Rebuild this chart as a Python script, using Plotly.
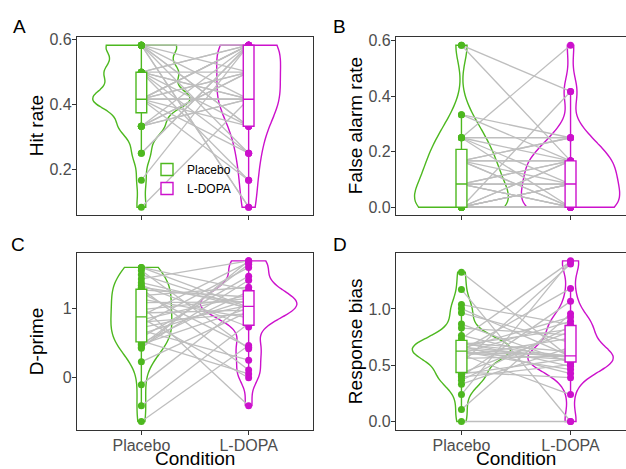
import numpy as np
import plotly.graph_objects as go

# ---------------- data (one value per participant, paired by position) ----------------
conditions = ["Placebo", "L-DOPA"]
panel_letters = ["A", "B", "C", "D"]
y_titles = ["Hit rate", "False alarm rate", "D-prime", "Response bias"]
x_title = "Condition"

hit_placebo = [0.5833, 0.5833, 0.5833, 0.5833, 0.5833, 0.5833, 0.5833,
               0.5, 0.5, 0.5, 0.5, 0.5, 0.5, 0.5, 0.5,
               0.4167, 0.4167, 0.4167, 0.4167, 0.4167, 0.4167, 0.5833, 0.4167, 0.4167, 0.4167, 0.4167, 0.4167,
               0.3333, 0.3333, 0.3333, 0.3333, 0.3333,
               0.25, 0.25, 0.1667, 0.0833]
hit_ldopa = [0.5833, 0.4167, 0.3333, 0.25, 0.0833, 0.5, 0.3333,
             0.5833, 0.4167, 0.3333, 0.25, 0.1667, 0.5, 0.5833, 0.4167,
             0.4167, 0.4167, 0.5833, 0.5, 0.25, 0.1667, 0.0833, 0.5833, 0.3333, 0.4167, 0.5, 0.5833,
             0.5833, 0.4167, 0.5, 0.4167, 0.5,
             0.5833, 0.5833, 0.5833, 0.4167]

fa_placebo = [0.5833, 0.5833, 0.3333, 0.3333,
              0.25, 0.25, 0.25, 0.25, 0.25,
              0.1667, 0.1667, 0.1667, 0.1667, 0.1667, 0.1667, 0.1667,
              0.0833, 0.0833, 0.0833, 0.0833, 0.0833, 0.0833, 0.0833, 0.0833,
              0.0, 0.0, 0.0, 0.0, 0.0, 0.0, 0.0, 0.0, 0.0, 0.0, 0.0, 0.0]
fa_ldopa = [0.4167, 0.1667, 0.25, 0.1667,
            0.5833, 0.25, 0.1667, 0.0833, 0.0,
            0.1667, 0.0833, 0.0, 0.25, 0.1667, 0.0, 0.25,
            0.1667, 0.0833, 0.0, 0.1667, 0.0833, 0.0, 0.0833, 0.0,
            0.4167, 0.1667, 0.0833, 0.0, 0.1667, 0.0833, 0.0, 0.0, 0.0833, 0.0, 0.0, 0.0833]

dprime_placebo = [-0.627, -0.40, -0.098, 0.229, 0.425, 0.44, 0.463, 0.48, 0.50, 0.53, 0.58, 0.63,
                  0.68, 0.72, 0.76, 0.80, 0.83, 0.86, 0.89, 0.93, 0.98, 1.03, 1.08, 1.13,
                  1.18, 1.22, 1.263, 1.28, 1.30, 1.33, 1.365, 1.42, 1.48, 1.54, 1.585, 1.585]
dprime_ldopa = [0.463, 0.78, 1.10, 0.95, 1.679, 1.40, 1.63, 1.00, 1.24, 0.056, 1.459, 1.12,
                0.252, 1.04, 1.585, 0.92, 1.19, 0.0, 1.66, 0.97, 1.14, -0.40, 1.09, 0.86,
                1.30, 0.44, 1.16, 0.112, 1.07, 0.729, 1.005, 1.679, 0.99, 0.416, 1.26, 1.01]

bias_placebo = [0.0, 0.106, 0.239, 0.331, 0.366, 0.394, 0.40, 0.42, 0.43, 0.44, 0.52, 0.56,
                0.58, 0.595, 0.605, 0.61, 0.615, 0.62, 0.63, 0.64, 0.65, 0.66, 0.67, 0.68,
                0.69, 0.70, 0.705, 0.735, 0.764, 0.83, 0.865, 0.965, 1.003, 1.038, 1.173, 1.326]
bias_ldopa = [0.0, 0.957, 1.427, 0.66, 0.845, 0.505, 1.067, 0.56, 0.80, 0.389, 1.398, 0.58,
              0.74, 0.239, 0.89, 0.55, 0.585, 0.461, 1.182, 0.575, 0.928, 0.57, 0.426, 0.82,
              0.58, 0.62, 0.49, 1.42, 0.537, 0.77, 0.52, 0.70, 0.578, 0.86, 0.0, 0.565]

hit_ticks = [0.2, 0.4, 0.6]
hit_ticklabels = ["0.2", "0.4", "0.6"]
fa_ticks = [0.0, 0.2, 0.4, 0.6]
fa_ticklabels = ["0.0", "0.2", "0.4", "0.6"]
dprime_ticks = [0, 1]
dprime_ticklabels = ["0", "1"]
bias_ticks = [0.0, 0.5, 1.0]
bias_ticklabels = ["0.0", "0.5", "1.0"]

# ---------------- styling ----------------
W, H = 626, 469
GREEN = "#4DB81F"
MAGENTA = "#CC11CC"
LINK_GRAY = "#BEBEBE"
AXIS_COL = "#333333"
TICK_TXT = "#4D4D4D"
FONT = "Liberation Sans, Arial, sans-serif"
COLORS = [GREEN, MAGENTA]


def px_x(a, b):
    return [a / W, b / W]


def px_y(top, bottom):
    return [1 - bottom / H, 1 - top / H]


def bw_nrd0(v):
    v = np.asarray(v, float)
    sd = v.std(ddof=1)
    q75, q25 = np.percentile(v, [75, 25])
    lo = min(sd, (q75 - q25) / 1.34)
    if lo <= 0:
        lo = sd if sd > 0 else 1.0
    return 0.9 * lo * len(v) ** -0.2


panels = [
    dict(data=(hit_placebo, hit_ldopa), ticks=(hit_ticks, hit_ticklabels),
         xdom=px_x(77, 313), ydom=px_y(31.5, 212), xr=[0.4, 2.6], full=True, xlab=False,
         letter_xy=(19, 21), title_x=36),
    dict(data=(fa_placebo, fa_ldopa), ticks=(fa_ticks, fa_ticklabels),
         xdom=px_x(396, 626), ydom=px_y(31.5, 212), xr=[0.4, 0.4 + 2.2 * 230 / 240], full=False, xlab=False,
         letter_xy=(340, 21), title_x=355),
    dict(data=(dprime_placebo, dprime_ldopa), ticks=(dprime_ticks, dprime_ticklabels),
         xdom=px_x(77, 313), ydom=px_y(250, 429), xr=[0.4, 2.6], full=True, xlab=True,
         letter_xy=(18, 242), title_x=36, xtitle_x=195),
    dict(data=(bias_placebo, bias_ldopa), ticks=(bias_ticks, bias_ticklabels),
         xdom=px_x(396, 626), ydom=px_y(250, 429), xr=[0.4, 0.4 + 2.2 * 230 / 240], full=False, xlab=True,
         letter_xy=(340, 242), title_x=355, xtitle_x=516),
]

fig = go.Figure()
layout = dict(width=W, height=H, margin=dict(l=0, r=0, t=0, b=0),
              paper_bgcolor="white", plot_bgcolor="white",
              showlegend=True, violinmode="overlay", boxmode="overlay",
              violingap=0.1, violingroupgap=0.0,
              font=dict(family=FONT, color="black"))
annotations = []

for i, p in enumerate(panels):
    base = i + 1
    ov = i + 5
    xa, ya = f"x{base}", f"y{base}"
    xo, yo = f"x{ov}", f"y{ov}"
    plac, ldopa = p["data"]
    allv = np.array(plac + ldopa, float)
    lo, hi = allv.min(), allv.max()
    pad = 0.05 * (hi - lo)
    yr = [lo - pad, hi + pad]
    n = len(plac)

    # violins (trimmed, area-scaled within the panel: equal counts -> shared density scale)
    for k, vals in enumerate((plac, ldopa)):
        fig.add_trace(go.Violin(
            x=[k + 1] * n, y=vals, name=conditions[k], xaxis=xa, yaxis=ya,
            line=dict(color=COLORS[k], width=1.4), fillcolor="rgba(255,255,255,0)",
            points=False, spanmode="hard", bandwidth=bw_nrd0(vals),
            scalegroup=f"panel{i}", scalemode="count",
            box=dict(visible=False), meanline=dict(visible=False),
            showlegend=False, hoverinfo="skip"))

    # paired links
    lx, ly = [], []
    for a, b in zip(plac, ldopa):
        lx += [1, 2, None]
        ly += [a, b, None]
    fig.add_trace(go.Scatter(x=lx, y=ly, mode="lines", xaxis=xa, yaxis=ya,
                             line=dict(color=LINK_GRAY, width=1.3), showlegend=False,
                             hoverinfo="skip"))
    # points
    for k, vals in enumerate((plac, ldopa)):
        fig.add_trace(go.Scatter(x=[k + 1] * n, y=vals, mode="markers", xaxis=xa, yaxis=ya,
                                 marker=dict(color=COLORS[k], size=7), showlegend=False,
                                 hoverinfo="skip"))
    # boxes on overlay axes (drawn above links/points)
    for k, vals in enumerate((plac, ldopa)):
        fig.add_trace(go.Box(
            x=[k + 1] * n, y=vals, name=conditions[k], xaxis=xo, yaxis=yo,
            width=0.1, fillcolor="white", line=dict(color=COLORS[k], width=1.4),
            whiskerwidth=0, boxpoints="outliers", quartilemethod="linear",
            marker=dict(opacity=0, size=1, color=COLORS[k]),
            showlegend=(i == 0), legendgroup=conditions[k], hoverinfo="skip"))

    tv, tt = p["ticks"]
    layout[f"xaxis{base}"] = dict(
        domain=p["xdom"], range=p["xr"], anchor=ya, showgrid=False, zeroline=False,
        showline=True, linecolor=AXIS_COL, linewidth=1.2, mirror=True,
        ticks="outside", ticklen=4, tickwidth=1.1, tickcolor=AXIS_COL,
        tickvals=[1, 2], ticktext=conditions, showticklabels=p["xlab"],
        ticklabelstandoff=-3,
        tickfont=dict(size=16, color=TICK_TXT, family=FONT))
    layout[f"yaxis{base}"] = dict(
        domain=p["ydom"], range=yr, anchor=xa, showgrid=False, zeroline=False,
        showline=True, linecolor=AXIS_COL, linewidth=1.2, mirror=p["full"],
        ticks="outside", ticklen=4, tickwidth=1.1, tickcolor=AXIS_COL,
        ticklabelstandoff=-3,
        tickvals=tv, ticktext=tt, tickfont=dict(size=16, color=TICK_TXT, family=FONT))
    layout[f"xaxis{ov}"] = dict(domain=p["xdom"], range=p["xr"], overlaying=xa, anchor=yo,
                                visible=False, showgrid=False, zeroline=False)
    layout[f"yaxis{ov}"] = dict(domain=p["ydom"], range=yr, overlaying=ya, anchor=xo,
                                visible=False, showgrid=False, zeroline=False)

    lxp, lyp = p["letter_xy"]
    annotations.append(dict(text=panel_letters[i], x=lxp / W, y=1 - lyp / H, xref="paper", yref="paper",
                            showarrow=False, xanchor="center", yanchor="middle",
                            font=dict(size=19, color="black", family=FONT)))
    annotations.append(dict(text=y_titles[i], x=p["title_x"] / W, y=(p["ydom"][0] + p["ydom"][1]) / 2,
                            xref="paper", yref="paper", textangle=-90, showarrow=False,
                            xanchor="center", yanchor="middle",
                            font=dict(size=19, color="black", family=FONT)))
    if p["xlab"]:
        annotations.append(dict(text=x_title, x=p["xtitle_x"] / W, y=1 - 458 / H,
                                xref="paper", yref="paper", showarrow=False,
                                xanchor="center", yanchor="middle",
                                font=dict(size=19, color="black", family=FONT)))

layout["annotations"] = annotations
layout["legend"] = dict(x=147 / W, y=1 - 151 / H, xanchor="left", yanchor="top",
                        bgcolor="rgba(0,0,0,0)", font=dict(size=12, color="black", family=FONT),
                        tracegroupgap=0, itemwidth=30)
fig.update_layout(**layout)
fig.write_html("out.html", config={"displayModeBar": False},
               post_script="document.body.style.margin='0';document.body.style.padding='0';")
